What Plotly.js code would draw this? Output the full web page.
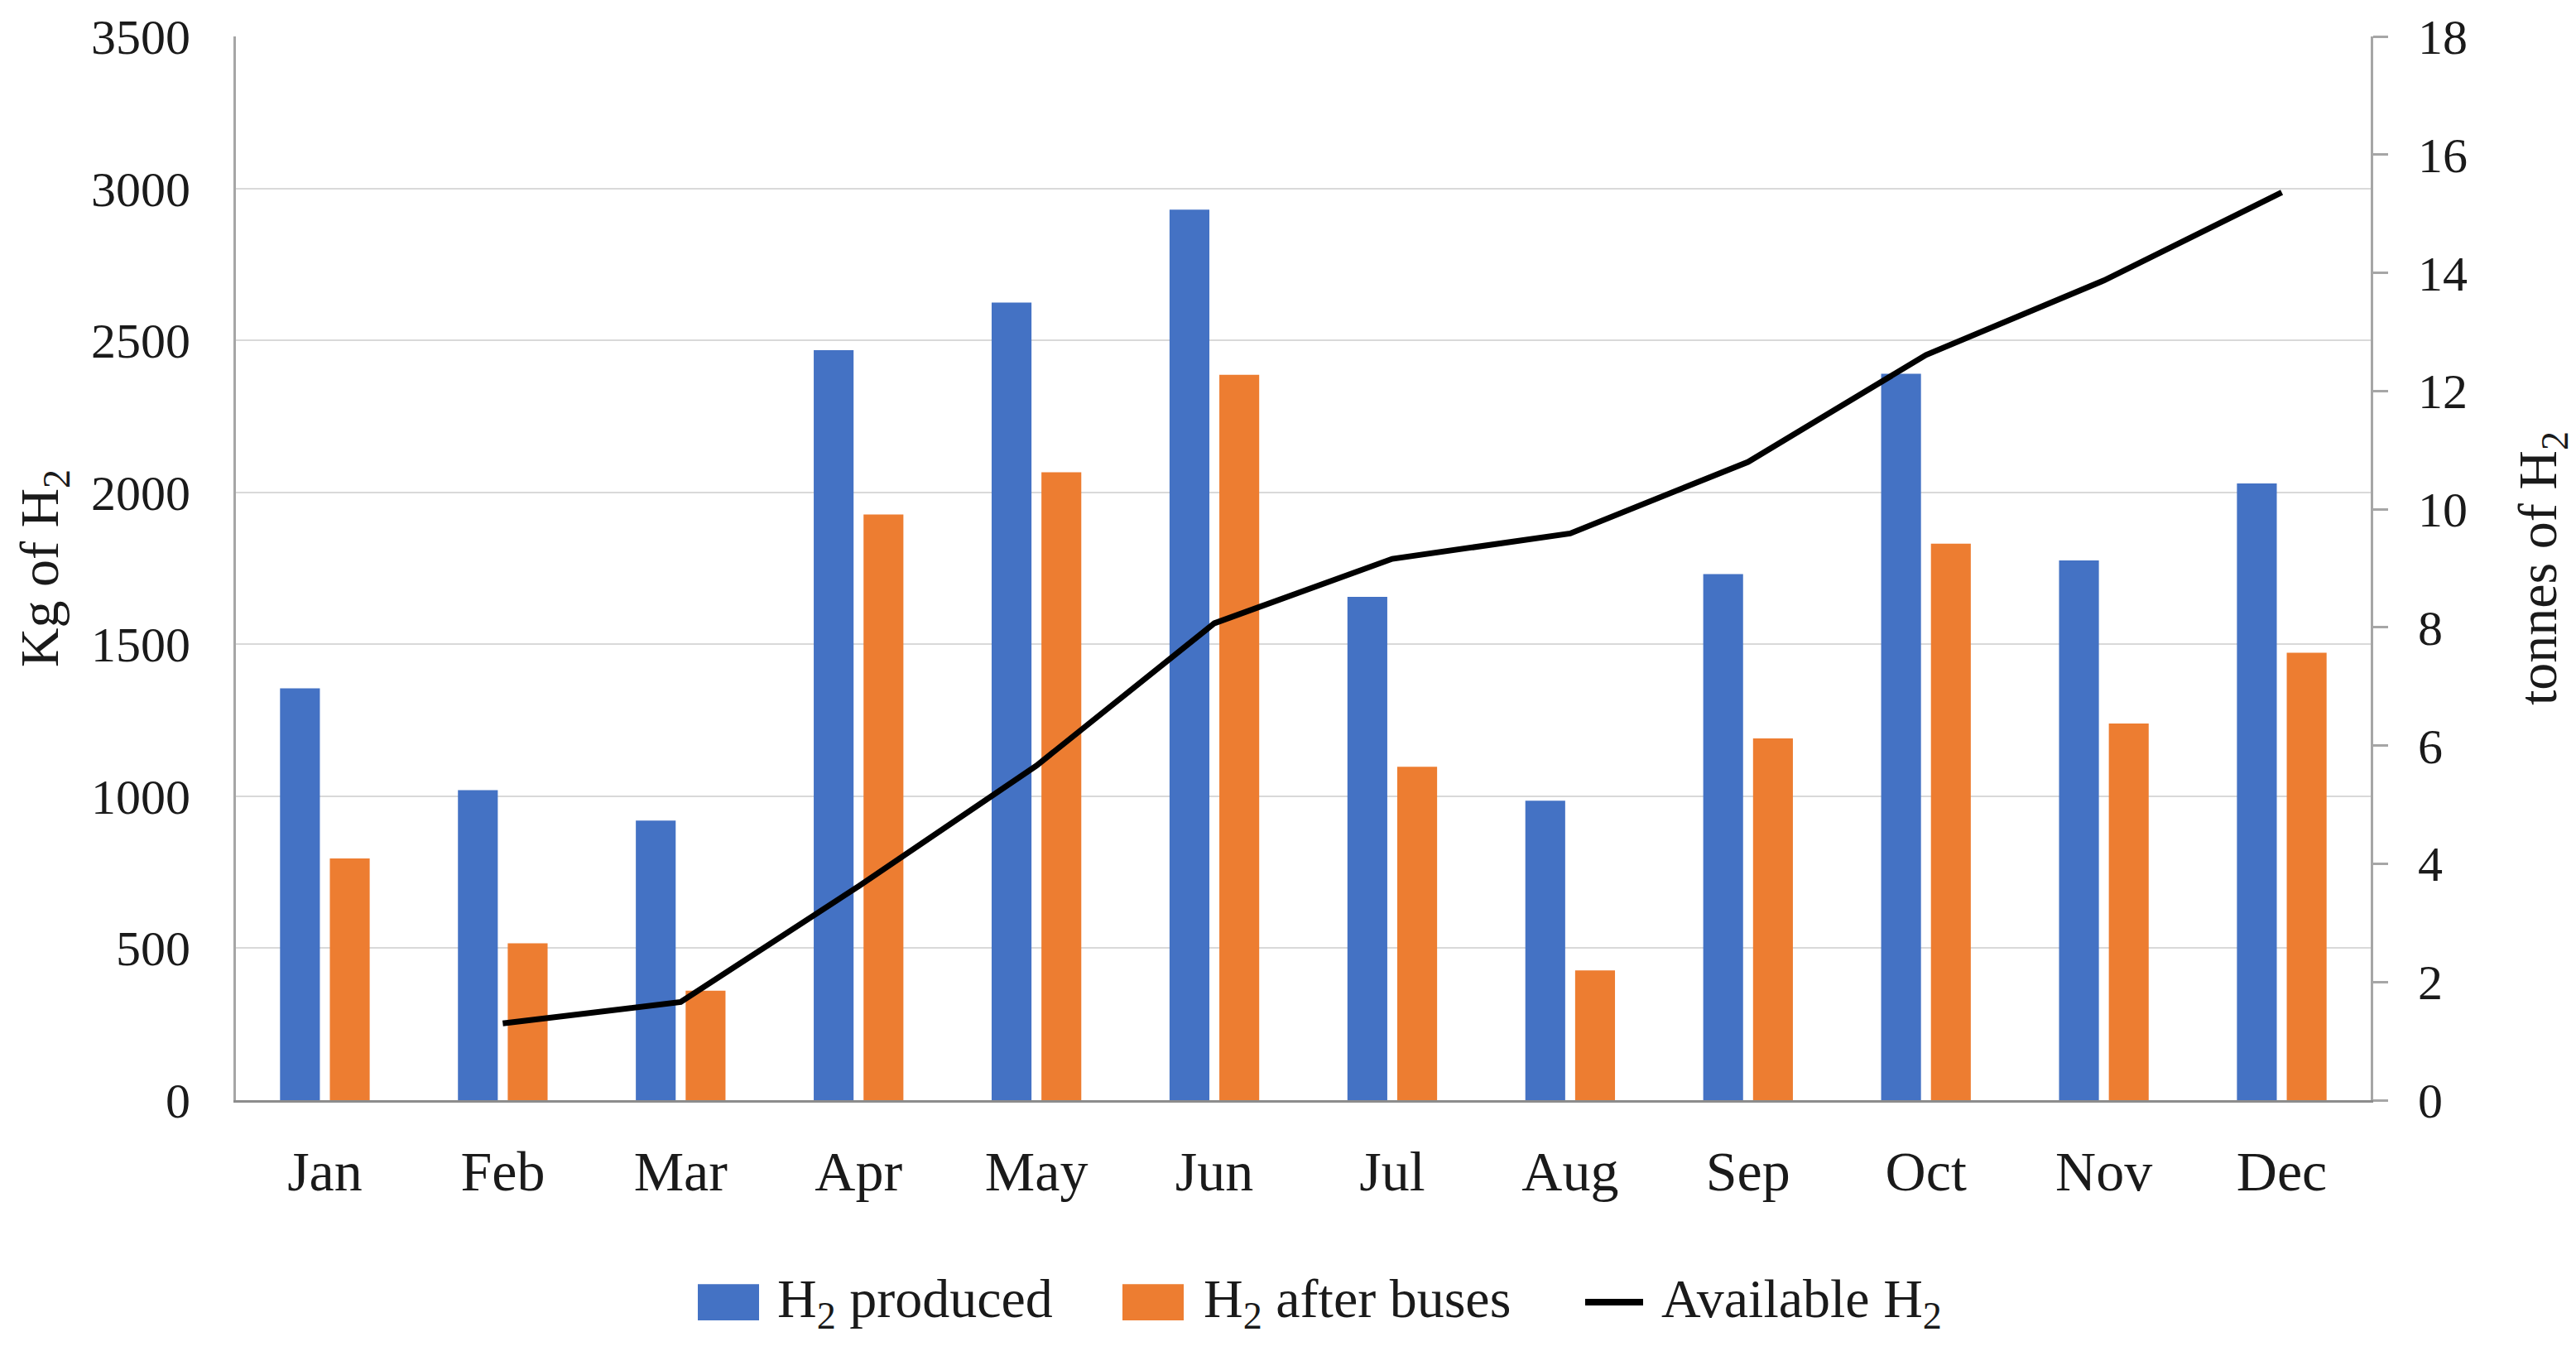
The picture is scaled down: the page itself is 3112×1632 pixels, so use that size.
<!DOCTYPE html>
<html>
<head>
<meta charset="utf-8">
<script src="https://cdn.plot.ly/plotly-3.0.1.min.js"></script>
<style>
  html, body { margin: 0; padding: 0; background: #ffffff; }
  #chart { width: 3112px; height: 1632px; }
</style>
</head>
<body>
<div id="chart"></div>
<script>
// ---- data ----
const months = ["Jan", "Feb", "Mar", "Apr", "May", "Jun", "Jul", "Aug", "Sep", "Oct", "Nov", "Dec"];
const h2Produced = [1355, 1020, 920, 2468, 2624, 2930, 1656, 985, 1731, 2390, 1776, 2029];
const h2AfterBuses = [795, 516, 360, 1927, 2066, 2387, 1097, 427, 1190, 1831, 1239, 1472];
const availableH2 = [null, 1.30, 1.66, 3.62, 5.66, 8.07, 9.16, 9.59, 10.80, 12.61, 13.87, 15.36];
const leftTicks = [0, 500, 1000, 1500, 2000, 2500, 3000, 3500];
const rightTicks = [0, 2, 4, 6, 8, 10, 12, 14, 16, 18];

const seriesNames = ["H<sub>2</sub> produced", "H<sub>2</sub> after buses", "Available H<sub>2</sub>"];
const colors = ["#4472C4", "#ED7D31", "#000000"];

const FONT = "Liberation Serif, Times New Roman, serif";
const W = 3112, H = 1632;
const M = { l: 285, r: 248, t: 39, b: 303 };
const PW = W - M.l - M.r, PH = H - M.t - M.b;

const traces = [
  { type: "bar", x: months, y: h2Produced, name: seriesNames[0],
    marker: { color: colors[0] }, showlegend: false, yaxis: "y" },
  { type: "bar", x: months, y: h2AfterBuses, name: seriesNames[1],
    marker: { color: colors[1] }, showlegend: false, yaxis: "y" },
  { type: "scatter", mode: "lines", x: months, y: availableH2, name: seriesNames[2],
    line: { color: colors[2], width: 7 }, connectgaps: false, showlegend: false, yaxis: "y2" }
];

// custom legend (large swatches like the reference); paper coords relative to plot area
function px(x) { return (x - M.l) / PW; }
function py(y) { return (H - M.b - y) / PH; }
const legendY = 1574;
const legendItems = [
  { sx0: 843, sx1: 917, tx: 937, kind: "rect", color: colors[0], text: seriesNames[0] },
  { sx0: 1356, sx1: 1430, tx: 1452, kind: "rect", color: colors[1], text: seriesNames[1] },
  { sx0: 1915, sx1: 1985, tx: 2005, kind: "line", color: colors[2], text: seriesNames[2] }
];
const shapes = [];
const annotations = [];
legendItems.forEach(it => {
  if (it.kind === "rect") {
    shapes.push({ type: "rect", xref: "paper", yref: "paper",
      x0: px(it.sx0), x1: px(it.sx1), y0: py(legendY + 22), y1: py(legendY - 22),
      fillcolor: it.color, line: { width: 0 } });
  } else {
    shapes.push({ type: "line", xref: "paper", yref: "paper",
      x0: px(it.sx0), x1: px(it.sx1), y0: py(legendY), y1: py(legendY),
      line: { color: it.color, width: 8 } });
  }
  annotations.push({ xref: "paper", yref: "paper", x: px(it.tx), y: py(legendY),
    xanchor: "left", yanchor: "middle", showarrow: false, text: it.text,
    font: { family: FONT, size: 66, color: "#1a1a1a" } });
});

const layout = {
  width: W, height: H,
  paper_bgcolor: "#ffffff", plot_bgcolor: "#ffffff",
  margin: M,
  barmode: "group", bargap: 0.44, bargroupgap: 0.2,
  showlegend: false,
  font: { family: FONT, size: 60, color: "#1a1a1a" },
  xaxis: {
    type: "category", showgrid: false, showline: true, linecolor: "#8c8c8c", linewidth: 3,
    ticks: "", tickfont: { family: FONT, size: 68, color: "#1a1a1a" },
    ticklabelstandoff: 24, zeroline: false, fixedrange: true
  },
  yaxis: {
    range: [0, 3500], tickvals: leftTicks, ticktext: leftTicks.map(String),
    showgrid: true, gridcolor: "#d9d9d9", gridwidth: 2,
    showline: true, linecolor: "#a6a6a6", linewidth: 3, ticks: "",
    zeroline: false, tickfont: { family: FONT, size: 60, color: "#1a1a1a" },
    ticklabelstandoff: 40, automargin: true,
    title: { text: "Kg of H<sub>2</sub>", font: { family: FONT, size: 66, color: "#1a1a1a" }, standoff: 18 }
  },
  yaxis2: {
    overlaying: "y", side: "right", range: [0, 18], tickvals: rightTicks,
    ticktext: rightTicks.map(String), showgrid: false, zeroline: false,
    showline: true, linecolor: "#a6a6a6", linewidth: 3,
    ticks: "outside", ticklen: 18, tickwidth: 3, tickcolor: "#a6a6a6",
    tickfont: { family: FONT, size: 60, color: "#1a1a1a" },
    ticklabelstandoff: 24, automargin: true,
    title: { text: "tonnes of H<sub>2</sub>", font: { family: FONT, size: 66, color: "#1a1a1a" }, standoff: 72 }
  },
  shapes: shapes,
  annotations: annotations
};

Plotly.newPlot("chart", traces, layout, { displayModeBar: false, staticPlot: true });
</script>
</body>
</html>
